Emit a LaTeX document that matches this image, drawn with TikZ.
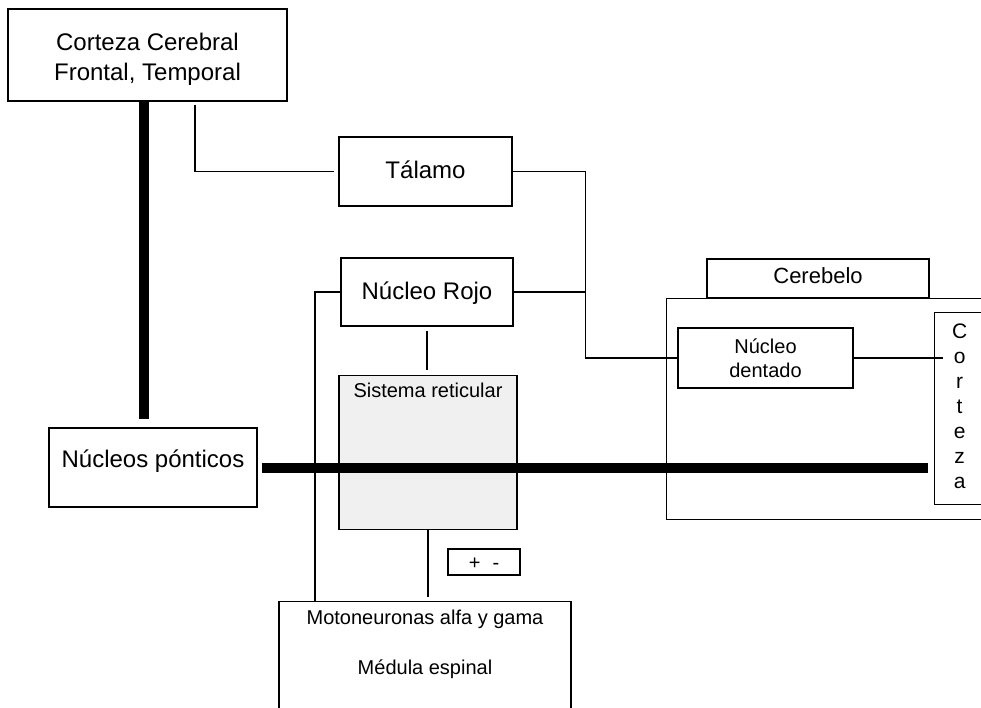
\documentclass[tikz,border=0pt]{standalone}
\usepackage{fontspec}
\setmainfont{Liberation Sans}
\usepackage{xcolor}
\usepackage{tikz}

\definecolor{retgray}{HTML}{F0F0F0}

\begin{document}
\begin{tikzpicture}[
        x=1pt, y=-1pt,
        region/.style={
            draw,
            rectangle,
            line width=1.2pt,
            inner sep=0pt,
            align=center,
            text height=17pt,
            text depth=3pt,
            font=\fontsize{24}{30}\selectfont
        },
        small/.style={
            font=\fontsize{20}{24}\selectfont
        },
        link/.style={
            line width=1.2pt
        },
        tract/.style={
            line width=10pt
        }
    ]

    \clip (0,0) rectangle (981,707);

    \node[region, minimum width=279pt, minimum height=92pt, text height=52pt, text depth=1pt] (corteza) at (147.5,55) {Corteza Cerebral\\Frontal, Temporal};
    \node[region, minimum width=173pt, minimum height=69pt] (talamo) at (425.5,171.5) {Tálamo};
    \node[region, minimum width=172pt, minimum height=68pt] (rojo) at (427,292) {Núcleo Rojo};
    \node[region, small, fill=retgray, minimum width=178pt, text height=22pt, text depth=132pt, anchor=north] (reticular) at (428,375) {Sistema reticular};
    \node[region, minimum width=208pt, minimum height=79pt, text height=14pt, text depth=14pt] (pontic) at (153,467.5) {Núcleos pónticos};
    \node[region, small, minimum width=72pt, minimum height=26pt, text height=14pt, text depth=0pt] (signos) at (484,562) {+\hspace{12pt}-};
    \node[region, small, minimum width=292pt, text height=73pt, text depth=60pt, anchor=north] (moto) at (425,601) {Motoneuronas alfa y gama\\[26pt]Médula espinal};

    \node[region, minimum width=340pt, minimum height=221pt, anchor=north west] (cerebelo) at (666,298) {};
    \node[region, minimum width=222pt, minimum height=39pt, text height=16pt, text depth=7pt, font=\fontsize{22}{26}\selectfont] (titulo) at (818,278.5) {Cerebelo};
    \node[region, small, minimum width=175pt, minimum height=60pt, text height=40pt, text depth=1pt] (dentado) at (765.5,358) {Núcleo\\dentado};
    \node[region, minimum width=50pt, minimum height=192pt, anchor=north west, text height=176pt, text depth=16pt, font=\fontsize{21}{25}\selectfont] (letras) at (934,312) {C\\o\\r\\t\\e\\z\\a};

    \coordinate (cruce) at ([xshift=73pt]talamo.east);

    \draw[link, shorten <=3pt, shorten >=4pt] ([xshift=47.5pt]corteza.south) |- (talamo.west);
    \draw[link] (talamo.east) -- (cruce) |- (dentado.west);
    \draw[link] (rojo.east) -- (rojo.east -| cruce);
    \draw[link] (rojo.west) -| ([xshift=-110pt]moto.north);
    \draw[link, shorten <=4pt, shorten >=5pt] (rojo.south) -- (rojo.south |- reticular.north);
    \draw[link, shorten >=4pt] (reticular.south) -- (reticular.south |- moto.north);
    \draw[link, shorten >=-9pt] (dentado.east) -- (dentado.east -| letras.west);

    \draw[tract, shorten >=8pt] ([xshift=-4pt]corteza.south) -- ([xshift=-4pt]corteza.south |- pontic.north);
    \draw[tract, shorten <=4pt, shorten >=6pt] (pontic.east) -- (pontic.east -| letras.west);

\end{tikzpicture}
\end{document}
